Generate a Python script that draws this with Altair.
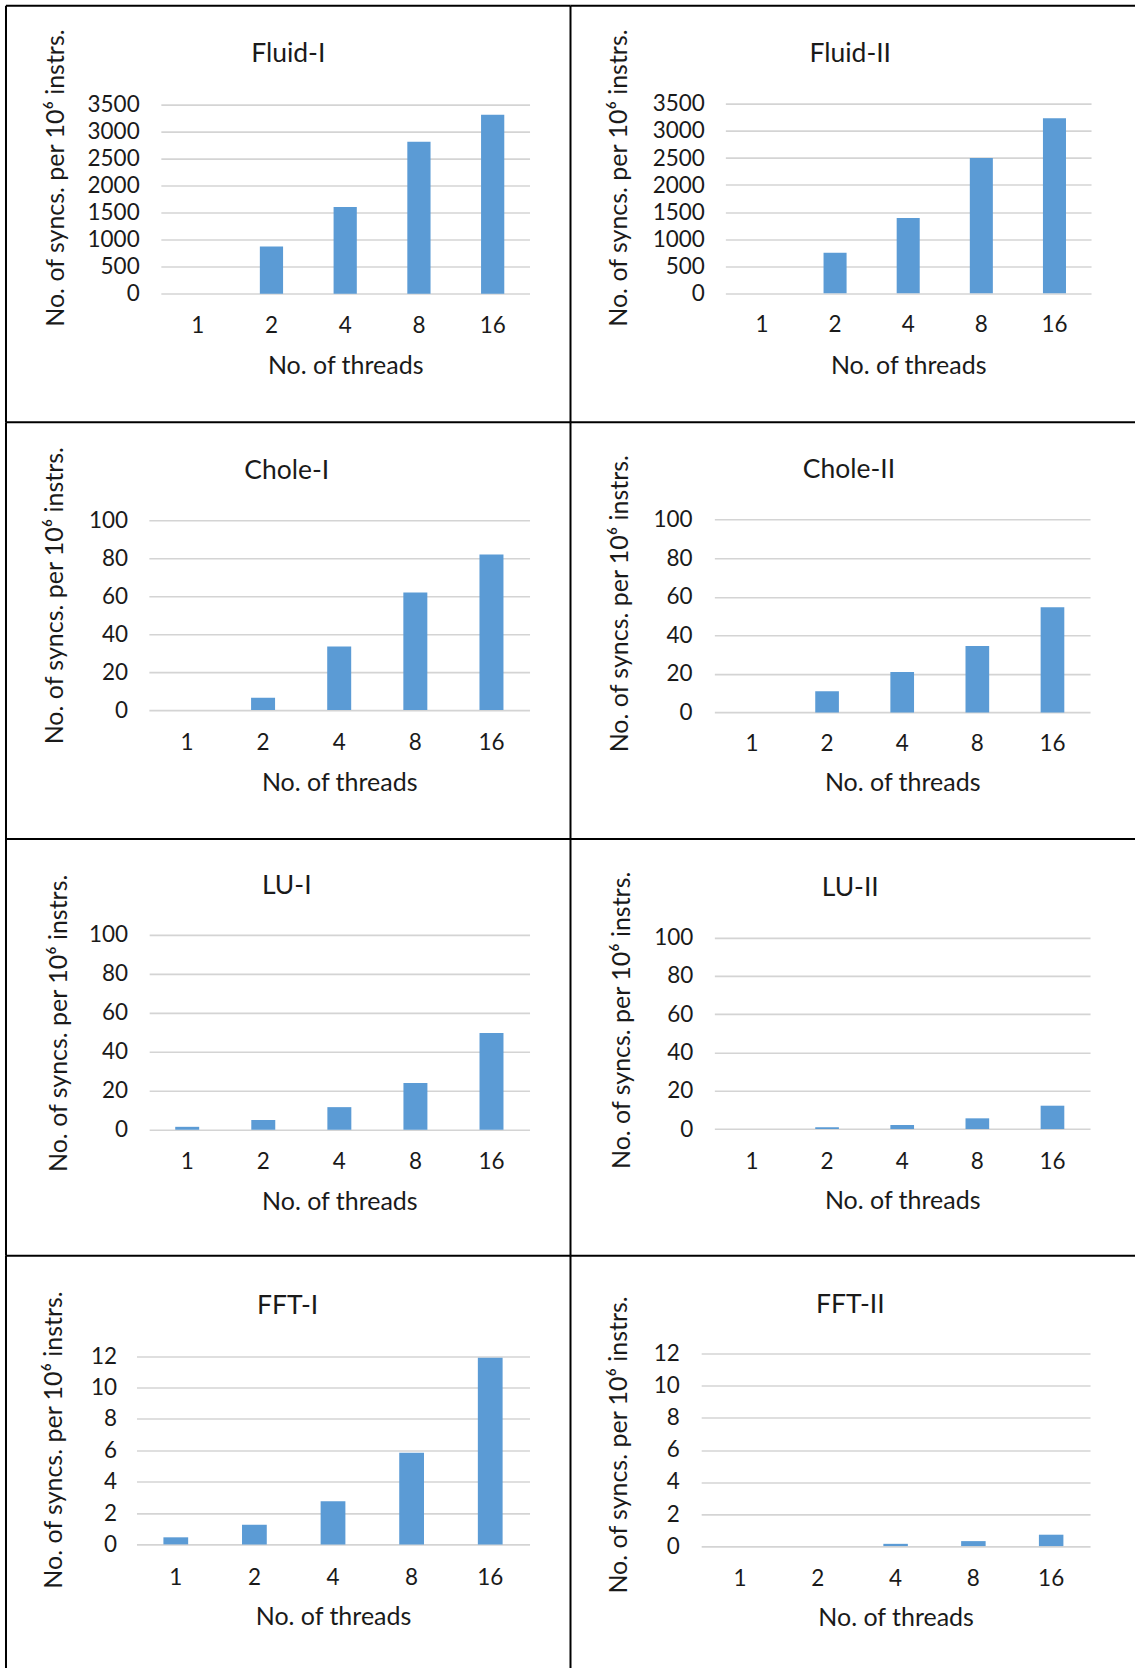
import altair as alt
import pandas as pd

# Thread counts on the x axis
THREADS = ["1", "2", "4", "8", "16"]

# Synchronisations per 10^6 instructions, one list per benchmark variant
FLUID_I = [0, 873, 1605, 2810, 3309]
FLUID_II = [0, 750, 1390, 2500, 3235]
CHOLE_I = [0, 6.5, 33.5, 62, 82]
CHOLE_II = [0, 11, 21, 34.5, 54.5]
LU_I = [1.5, 5, 11.6, 24, 49.6]
LU_II = [0, 0.9, 2.1, 5.6, 12.2]
FFT_I = [0.45, 1.25, 2.75, 5.85, 11.9]
FFT_II = [0, 0, 0.14, 0.31, 0.71]

# Y tick values per benchmark family
TICKS_FLUID = [0, 500, 1000, 1500, 2000, 2500, 3000, 3500]
TICKS_HUNDRED = [0, 20, 40, 60, 80, 100]
TICKS_FFT = [0, 2, 4, 6, 8, 10, 12]

Y_TITLE = "No. of syncs. per 10\u2076 instrs."
X_TITLE = "No. of threads"

BLUE = "#5B9BD5"
GRID = "#D4D4D4"
INK = "#1a1a1a"
FONT = "Lato"

CELL_H = 417
CELL_W = 565

# Layout of each framed cell (pixels inside the cell):
# xr = band range, y0/ytop = pixel of axis minimum/maximum,
# tx = title centre, toff = title offset, ylab = right edge of y labels,
# ytx/yty = centre of the y-axis title, xlab = centre of x labels,
# xtb = baseline of the x-axis title
PANELS = [
    ("Fluid-I", FLUID_I, TICKS_FLUID,
     dict(xr=(155, 524), y0=288.3, ytop=98.7, tx=282.5, toff=-84.3, ylab=133.3,
          ytx=49.5, yty=172, xlab=320, xtb=368.5)),
    ("Fluid-II", FLUID_II, TICKS_FLUID,
     dict(xr=(155, 521), y0=287.7, ytop=98.3, tx=280, toff=-84.3, ylab=134,
          ytx=48, yty=172, xlab=319.5, xtb=368.5)),
    ("Chole-I", CHOLE_I, TICKS_HUNDRED,
     dict(xr=(143, 524), y0=288, ytop=98, tx=281, toff=-84, ylab=121.6,
          ytx=49, yty=173, xlab=320.5, xtb=368)),
    ("Chole-II", CHOLE_II, TICKS_HUNDRED,
     dict(xr=(144, 520), y0=290.3, ytop=97.3, tx=278.7, toff=-83.2, ylab=121.7,
          ytx=48.7, yty=181, xlab=321.5, xtb=368.5)),
    ("LU-I", LU_I, TICKS_HUNDRED,
     dict(xr=(143.3, 524), y0=291, ytop=96, tx=281, toff=-83, ylab=121.6,
          ytx=52.5, yty=184, xlab=323, xtb=371)),
    ("LU-II", LU_II, TICKS_HUNDRED,
     dict(xr=(144, 520), y0=290.3, ytop=98.8, tx=280, toff=-84.7, ylab=122.5,
          ytx=51, yty=181, xlab=323, xtb=370)),
    ("FFT-I", FFT_I, TICKS_FFT,
     dict(xr=(130.6, 524), y0=289, ytop=100.7, tx=281.8, toff=-86, ylab=110.6,
          ytx=48, yty=184, xlab=322, xtb=369)),
    ("FFT-II", FFT_II, TICKS_FFT,
     dict(xr=(130.8, 520), y0=290.7, ytop=98.3, tx=280, toff=-84.5, ylab=109,
          ytx=48.3, yty=189, xlab=323, xtb=370)),
]

# one-row table that anchors the frame lines of a cell
EDGE = pd.DataFrame({"edge": [0]})


def frame_lines():
    # top and left border of a cell; neighbouring cells close the grid
    top = alt.Chart(EDGE).mark_rule(color="black", strokeWidth=2).encode(
        x=alt.value(0), x2=alt.value(CELL_W), y=alt.value(0))
    left = alt.Chart(EDGE).mark_rule(color="black", strokeWidth=2).encode(
        x=alt.value(0), y=alt.value(0), y2=alt.value(CELL_H))
    return [top, left]


def panel(name, values, ticks, g):
    df = pd.DataFrame({"threads": THREADS, "value": values})
    x0, x1 = g["xr"]
    x_axis = alt.Axis(
        title=X_TITLE, orient="bottom", offset=g["y0"] - CELL_H,
        domain=False, ticks=False, tickSize=0, grid=False,
        labelAngle=0, labelBaseline="middle", labelOverlap=False,
        labelPadding=g["xlab"] - g["y0"],
        titleX=(x0 + x1) / 2, titleY=g["xtb"] - g["y0"],
        titleAlign="center", titleBaseline="alphabetic",
    )
    y_axis = alt.Axis(
        title=Y_TITLE, orient="left", values=ticks, format="d",
        offset=-g["ylab"], domain=False, ticks=False, tickSize=0,
        labelPadding=0, labelOverlap=False,
        grid=True, gridColor=GRID, gridWidth=1.6,
        titleX=g["ytx"] - g["ylab"], titleY=g["yty"], titleAngle=-90,
        titleAlign="center", titleBaseline="middle",
    )
    bars = alt.Chart(df).mark_bar(color=BLUE).encode(
        x=alt.X("threads:N", sort=THREADS, axis=x_axis,
                scale=alt.Scale(range=[x0, x1], paddingInner=0.685,
                                paddingOuter=0.3425)),
        y=alt.Y("value:Q", axis=y_axis,
                scale=alt.Scale(domain=[ticks[0], ticks[-1]],
                                range=[g["y0"], g["ytop"]], nice=False)),
    )
    return alt.layer(bars, *frame_lines()).properties(
        width=CELL_W, height=CELL_H,
        title=alt.TitleParams(name, anchor="middle", frame="group",
                              dx=g["tx"] - CELL_W / 2, offset=g["toff"],
                              baseline="alphabetic"),
    )


cells = [panel(*p) for p in PANELS]

chart = alt.concat(*cells, columns=2, spacing=0, bounds="flush").properties(
    padding={"left": 5, "top": 4, "right": 0, "bottom": 0},
    background="white",
).configure_view(
    strokeWidth=0,
).configure_axis(
    labelFont=FONT, labelFontSize=22.5, labelColor=INK,
    titleFont=FONT, titleFontSize=25, titleFontWeight="normal", titleColor=INK,
).configure_title(
    font=FONT, fontSize=26.5, fontWeight="normal", color=INK,
)

chart.save("out.html", embed_options={"renderer": "svg", "actions": False})
